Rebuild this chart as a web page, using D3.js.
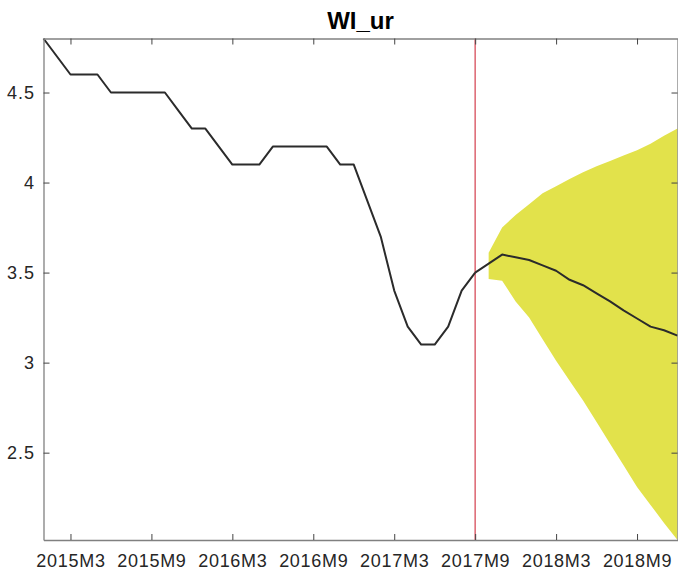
<!DOCTYPE html>
<html>
<head>
<meta charset="utf-8">
<script src="https://cdn.jsdelivr.net/npm/d3@7"></script>
<style>
  html, body { margin: 0; padding: 0; background: #fff; }
  svg { display: block; }
  text { font-family: "Liberation Sans", Arial, Helvetica, sans-serif; }
</style>
</head>
<body>
<svg id="chart" width="678" height="571"></svg>
<script>
// ---- data ----
const title = "WI_ur";
// month index 0 = 2015M1
// history (2015M1 .. 2017M9)
const history = [4.8, 4.7, 4.6, 4.6, 4.6, 4.5, 4.5, 4.5, 4.5, 4.5,
                 4.4, 4.3, 4.3, 4.2, 4.1, 4.1, 4.1, 4.2, 4.2, 4.2,
                 4.2, 4.2, 4.1, 4.1, 3.9, 3.7, 3.4, 3.2, 3.1, 3.1,
                 3.2, 3.4, 3.5];
// forecast median (2017M9 .. 2018M12)
const forecast = [3.5, 3.55, 3.6, 3.585, 3.57, 3.54, 3.51, 3.46, 3.43,
                  3.385, 3.34, 3.29, 3.245, 3.2, 3.18, 3.15];
// band (2017M10 .. 2018M12)
const bandUpper = [3.61, 3.75, 3.82, 3.88, 3.94, 3.98, 4.02, 4.057,
                   4.09, 4.12, 4.15, 4.18, 4.215, 4.26, 4.30];
const bandLower = [3.465, 3.455, 3.34, 3.25, 3.13, 3.01, 2.90, 2.79,
                   2.67, 2.55, 2.43, 2.31, 2.21, 2.11, 2.015];
const forecastStart = 32;     // 2017M9
const bandStart = 33;         // 2017M10
const lastMonth = 47;         // 2018M12
const xTickMonths = [2, 8, 14, 20, 26, 32, 38, 44];
const xTickLabels = ["2015M3", "2015M9", "2016M3", "2016M9", "2017M3", "2017M9", "2018M3", "2018M9"];
const yTicks = [2.5, 3, 3.5, 4, 4.5];

// ---- layout ----
const svg = d3.select("#chart");
const m = { left: 43.5, right: 0.5, top: 38.5, bottom: 31 };
const W = 678, H = 571;
const x = d3.scaleLinear().domain([0, lastMonth]).range([m.left, W - m.right]);
const yMin = d3.min(bandLower), yMax = d3.max(history);
const y = d3.scaleLinear().domain([yMin, yMax]).range([H - m.bottom, m.top]);

const textColor = "#262626";
const axisColor = "#808080";

// band
const band = bandUpper.map((u, i) => ({ m: bandStart + i, u, l: bandLower[i] }));
svg.append("path")
  .datum(band)
  .attr("fill", "#e2e24b")
  .attr("d", d3.area().x(d => x(d.m)).y0(d => y(d.l)).y1(d => y(d.u)));

// red vertical line
svg.append("line")
  .attr("x1", x(forecastStart)).attr("x2", x(forecastStart))
  .attr("y1", y(yMin)).attr("y2", y(yMax))
  .attr("stroke", "#dc6470").attr("stroke-width", 1.5);

// lines
const line = d3.line().x(d => x(d.m)).y(d => y(d.v));
const histPts = history.map((v, i) => ({ m: i, v }));
const fcPts = forecast.map((v, i) => ({ m: forecastStart + i, v }));
svg.append("path").datum(histPts).attr("fill", "none")
  .attr("stroke", "#2b2b2b").attr("stroke-width", 2).attr("stroke-linejoin", "round").attr("d", line);
svg.append("path").datum(fcPts).attr("fill", "none")
  .attr("stroke", "#2b2b2b").attr("stroke-width", 2).attr("stroke-linejoin", "round").attr("d", line);

// axes (inward ticks, mirrored)
const tickLen = 6;
const fmt = (d, i) => xTickLabels[i];
const gB = svg.append("g").attr("transform", `translate(0,${y(yMin)})`)
  .call(d3.axisBottom(x).tickValues(xTickMonths).tickFormat(fmt).tickSizeInner(-tickLen).tickSizeOuter(0).tickPadding(14.5));
const gT = svg.append("g").attr("transform", `translate(0,${y(yMax)})`)
  .call(d3.axisTop(x).tickValues(xTickMonths).tickFormat("").tickSizeInner(-tickLen).tickSizeOuter(0));
const gL = svg.append("g").attr("transform", `translate(${x(0)},0)`)
  .call(d3.axisLeft(y).tickValues(yTicks).tickFormat(d3.format("")).tickSizeInner(-tickLen).tickSizeOuter(0).tickPadding(8.5));
const gR = svg.append("g").attr("transform", `translate(${x(lastMonth)},0)`)
  .call(d3.axisRight(y).tickValues(yTicks).tickFormat("").tickSizeInner(-tickLen).tickSizeOuter(0));
[gB, gT, gL, gR].forEach(g => {
  g.select(".domain").attr("stroke", axisColor).attr("stroke-width", 1.3);
  g.selectAll(".tick line").attr("stroke", "#444").attr("stroke-width", 1);
  g.selectAll(".tick text").attr("fill", textColor).style("font-size", "18px")
    .style("font-family", '"Liberation Sans", Arial, sans-serif');
});
gB.selectAll(".tick text").style("letter-spacing", "0.7px");
gL.selectAll(".tick text").style("letter-spacing", "1px");

// title
svg.append("text")
  .attr("x", (x(0) + x(lastMonth)) / 2).attr("y", 29)
  .attr("text-anchor", "middle")
  .style("font-size", "24px").style("font-weight", "bold")
  .attr("fill", "#000")
  .text(title);
</script>
</body>
</html>
